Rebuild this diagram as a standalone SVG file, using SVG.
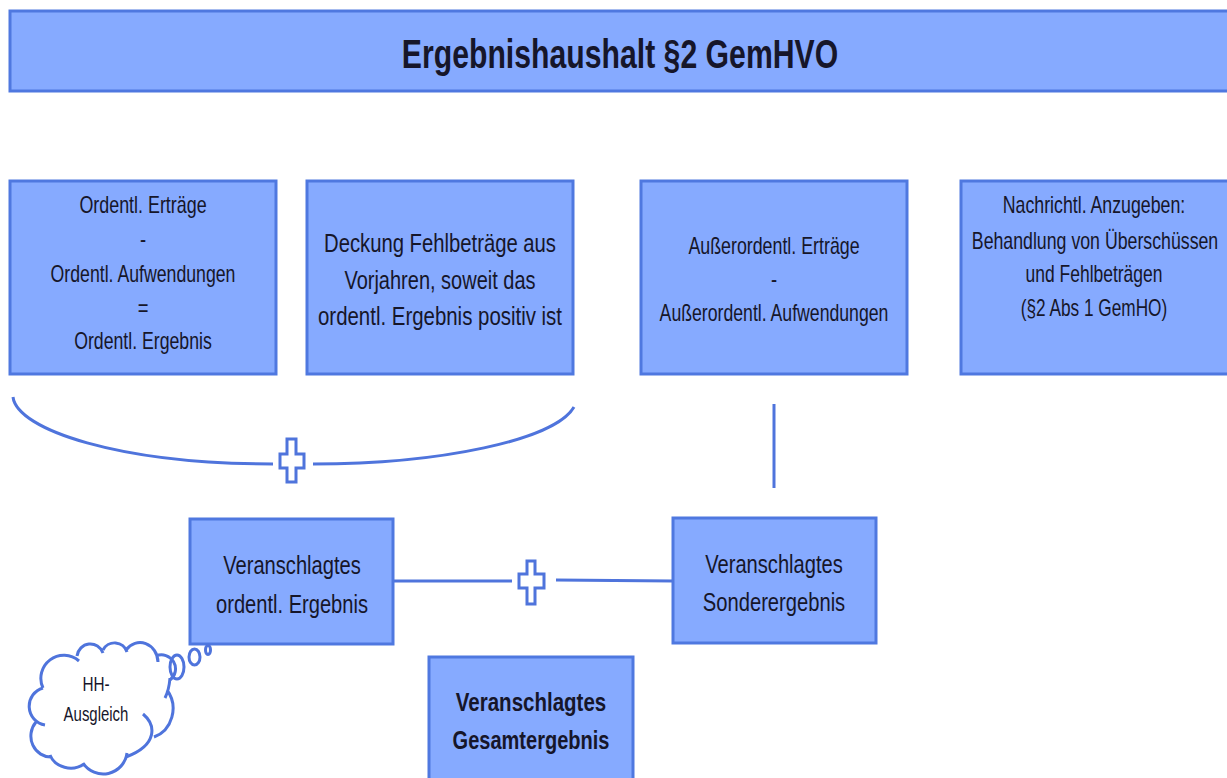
<svg xmlns="http://www.w3.org/2000/svg" width="1227" height="778" viewBox="0 0 1227 778">
<style>
.b{fill:#86aaff;stroke:#4f78e0;stroke-width:3}
.l{fill:none;stroke:#4f74dc;stroke-width:3}
.p{fill:#fff;stroke:#4f74dc;stroke-width:3}
text{font-family:"Liberation Sans",Arial,sans-serif;fill:#16162a;text-anchor:middle;font-size:23px}
.m{font-size:26px}
.c{font-size:20px}
.t{font-size:40px;font-weight:bold}
.h{font-weight:bold}
</style>
<rect width="1227" height="778" fill="#fff"/>
<g id="title"><rect class="b" x="10" y="11" width="1225" height="80"/><text class="t" transform="matrix(.72 0 0 1 620 68)" textLength="606" lengthAdjust="spacingAndGlyphs">Ergebnishaushalt §2 GemHVO</text></g>
<g id="n1"><rect class="b" x="10" y="181" width="266" height="193"/>
<text transform="matrix(.8 0 0 1 143 213)" textLength="159" lengthAdjust="spacingAndGlyphs">Ordentl. Erträge</text>
<text transform="matrix(.8 0 0 1 143 247)">-</text>
<text transform="matrix(.8 0 0 1 143 282)" textLength="231" lengthAdjust="spacingAndGlyphs">Ordentl. Aufwendungen</text>
<text transform="matrix(.8 0 0 1 143 316)">=</text>
<text transform="matrix(.8 0 0 1 143 349)" textLength="172" lengthAdjust="spacingAndGlyphs">Ordentl. Ergebnis</text></g>
<g id="n2"><rect class="b" x="307" y="181" width="266" height="193"/>
<text class="m" transform="matrix(.8 0 0 1 440 252)" textLength="290" lengthAdjust="spacingAndGlyphs">Deckung Fehlbeträge aus</text>
<text class="m" transform="matrix(.8 0 0 1 440 289)" textLength="239" lengthAdjust="spacingAndGlyphs">Vorjahren, soweit das</text>
<text class="m" transform="matrix(.8 0 0 1 440 325)" textLength="305" lengthAdjust="spacingAndGlyphs">ordentl. Ergebnis positiv ist</text></g>
<g id="n3"><rect class="b" x="641" y="181" width="266" height="193"/>
<text transform="matrix(.8 0 0 1 774 254)" textLength="214" lengthAdjust="spacingAndGlyphs">Außerordentl. Erträge</text>
<text transform="matrix(.8 0 0 1 774 287)">-</text>
<text transform="matrix(.8 0 0 1 774 321)" textLength="286" lengthAdjust="spacingAndGlyphs">Außerordentl. Aufwendungen</text></g>
<g id="n4"><rect class="b" x="961" y="181" width="270" height="193"/>
<text transform="matrix(.8 0 0 1 1094 213)" textLength="228" lengthAdjust="spacingAndGlyphs">Nachrichtl. Anzugeben:</text>
<text transform="matrix(.8 0 0 1 1095 249)" textLength="308" lengthAdjust="spacingAndGlyphs">Behandlung von Überschüssen</text>
<text transform="matrix(.8 0 0 1 1094 282)" textLength="171" lengthAdjust="spacingAndGlyphs">und Fehlbeträgen</text>
<text transform="matrix(.8 0 0 1 1094 316)" textLength="183" lengthAdjust="spacingAndGlyphs">(§2 Abs 1 GemHO)</text></g>
<g id="connectors">
<path class="l" d="M13 397C17 430 120 464 273 464"/>
<path class="l" d="M574 407C555 440 440 464 313 464"/>
<line class="l" x1="774" y1="404" x2="774" y2="488"/>
<line class="l" x1="394" y1="581" x2="512" y2="581"/>
<path class="l" d="M556 580L673 581"/>
</g>
<g id="plus1"><path class="p" d="M287 439H296V454H304V468H296V482H287V468H280V454H287Z"/></g>
<g id="plus2"><path class="p" d="M527 561H535V574H544V588H535V604H527V588H519V574H527Z"/></g>
<g id="n5"><rect class="b" x="190" y="519" width="203" height="125"/>
<text class="m" transform="matrix(.8 0 0 1 292 574)" textLength="172" lengthAdjust="spacingAndGlyphs">Veranschlagtes</text>
<text class="m" transform="matrix(.8 0 0 1 292 613)" textLength="190" lengthAdjust="spacingAndGlyphs">ordentl. Ergebnis</text></g>
<g id="n6"><rect class="b" x="673" y="518" width="203" height="125"/>
<text class="m" transform="matrix(.8 0 0 1 774 573)" textLength="172" lengthAdjust="spacingAndGlyphs">Veranschlagtes</text>
<text class="m" transform="matrix(.8 0 0 1 774 611)" textLength="178" lengthAdjust="spacingAndGlyphs">Sonderergebnis</text></g>
<g id="n7"><rect class="b" x="429" y="657" width="204" height="125"/>
<text class="m h" transform="matrix(.8 0 0 1 531 711)" textLength="188" lengthAdjust="spacingAndGlyphs">Veranschlagtes</text>
<text class="m h" transform="matrix(.8 0 0 1 531 749)" textLength="196" lengthAdjust="spacingAndGlyphs">Gesamtergebnis</text></g>
<g id="cloud">
<path fill="#fff" stroke="none" d="M43 688L79 661L103 653L127 652L158 662L170 680L172 710L154 737L126 754L84 763L50 755L36 722L30 705Z"/>
<path class="l" d="M43 688A23 23 0 0 1 79 661M77 656A13.500 14 0 0 1 103 653M103 650A13 13 0 0 1 127 652M126 650A18 20 0 0 1 158 662M156 656A14 14 0 0 1 170 680M170 678Q169 690 165 698M167 690A28 30 0 0 1 154 737M143 714C156 725 158 745 126 757M127 753A24 24 0 0 1 83 763M84 764A22 20 0 0 1 50 755M52 757A20 21 0 0 1 36 722M45 725A19 19 0 0 1 43 688"/>
<ellipse class="l" cx="177" cy="667" rx="7" ry="12"/>
<ellipse class="l" cx="194.500" cy="657" rx="5.500" ry="8"/>
<ellipse class="l" cx="208" cy="650" rx="2.500" ry="4.500"/>
<text class="c" transform="matrix(.8 0 0 1 96 691)" textLength="34" lengthAdjust="spacingAndGlyphs">HH-</text>
<text class="c" transform="matrix(.8 0 0 1 96 721)" textLength="81" lengthAdjust="spacingAndGlyphs">Ausgleich</text>
</g>
</svg>
